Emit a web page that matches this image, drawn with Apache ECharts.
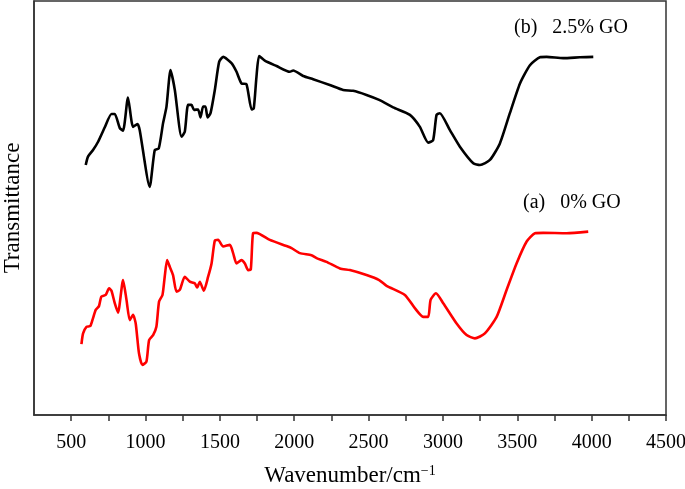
<!DOCTYPE html>
<html>
<head>
<meta charset="utf-8">
<script src="https://cdn.jsdelivr.net/npm/echarts@6/dist/echarts.min.js"></script>
<style>
  html, body { margin: 0; padding: 0; background: #fff; }
  #chart { width: 685px; height: 489px; }
</style>
</head>
<body>
<div id="chart"></div>
<script>
// x axis ticks
const tickLabels = [500, 1000, 1500, 2000, 2500, 3000, 3500, 4000, 4500];

// (b) 2.5% GO
const goWavenumber = [598, 613, 647, 681, 726, 771, 793, 827, 849, 882, 916, 946, 961, 1028, 1062, 1089,
  1118, 1141, 1168, 1197, 1242, 1264, 1286, 1309, 1326, 1353, 1370, 1387, 1403, 1417, 1437, 1466,
  1495, 1522, 1578, 1612, 1645, 1679, 1713, 1728, 1746, 1764, 1802, 1881, 1970, 1993, 2060, 2127,
  2239, 2329, 2396, 2486, 2571, 2665, 2778, 2845, 2901, 2934, 2957, 2979, 3047, 3114, 3204, 3249,
  3316, 3383, 3450, 3518, 3585, 3652, 3697, 3809, 3921, 4011];
const goTransmittance = [60.4, 62.4, 64.0, 66.0, 69.5, 72.7, 72.7, 69.3, 68.7, 76.7, 69.6, 70.3, 68.8, 55.1, 64.0, 64.4,
  70.5, 74.5, 83.3, 78.5, 67.2, 68.4, 74.9, 74.9, 73.7, 73.8, 71.9, 74.5, 74.5, 71.9, 72.9, 78.5,
  85.3, 86.5, 85.0, 82.9, 80.1, 79.9, 73.8, 74.1, 81.7, 86.7, 85.6, 84.3, 82.9, 83.2, 81.9, 81.1,
  79.7, 78.5, 78.3, 77.3, 76.1, 74.3, 72.5, 69.6, 65.8, 66.4, 72.5, 72.9, 68.8, 64.8, 60.8, 60.4,
  61.6, 65.6, 72.9, 80.1, 84.5, 86.4, 86.5, 86.2, 86.4, 86.5];

// (a) 0% GO
const pureWavenumber = [569, 580, 603, 629, 647, 665, 687, 703, 732, 755, 771, 793, 815, 849, 872, 894,
  916, 934, 956, 979, 1006, 1024, 1051, 1073, 1091, 1114, 1129, 1145, 1163, 1185, 1208, 1230,
  1264, 1298, 1331, 1347, 1365, 1392, 1421, 1444, 1466, 1488, 1522, 1567, 1589, 1612, 1645, 1668,
  1690, 1708, 1723, 1746, 1836, 1948, 1982, 2038, 2116, 2150, 2217, 2307, 2374, 2486, 2571, 2621,
  2744, 2811, 2867, 2901, 2917, 2953, 3002, 3092, 3159, 3215, 3282, 3361, 3428, 3495, 3563, 3619,
  3674, 3832, 3977];
const pureTransmittance = [17.1, 19.7, 21.3, 21.5, 23.4, 25.4, 26.3, 28.6, 29.0, 30.6, 30.0, 27.0, 24.7, 32.6, 27.8, 22.9,
  24.2, 22.1, 14.9, 12.1, 12.9, 18.1, 19.3, 21.3, 27.4, 29.0, 33.4, 37.4, 35.8, 33.8, 29.8, 30.2,
  33.4, 32.2, 31.8, 30.8, 32.2, 30.0, 33.4, 36.6, 42.1, 42.3, 40.7, 41.1, 39.1, 36.6, 37.4, 36.6,
  35.0, 35.2, 43.9, 44.0, 42.3, 40.8, 40.3, 39.1, 38.6, 37.9, 37.0, 35.4, 35.0, 33.8, 32.6, 31.2,
  29.0, 25.8, 23.7, 23.7, 27.8, 29.4, 27.0, 22.1, 19.3, 18.5, 19.7, 23.7, 30.2, 36.6, 41.9, 43.9,
  44.0, 43.9, 44.3];

const FONT = 'Liberation Serif, Times New Roman, serif';

const pairs = (xs, ys) => xs.map((x, i) => [x, ys[i]]);

const chart = echarts.init(document.getElementById('chart'), null, { renderer: 'canvas' });

const option = {
  backgroundColor: '#fff',
  animation: false,
  grid: {
    left: 34,
    top: 1,
    right: 19,
    bottom: 74,
    outerBoundsMode: 'none',
    containLabel: false,
    show: true,
    borderColor: '#333',
    borderWidth: 1.5,
  },
  xAxis: {
    type: 'value',
    min: 250,
    max: 4500,
    interval: 250,
    name: 'Wavenumber/cm{sup|\u22121}',
    nameLocation: 'middle',
    nameGap: 49,
    nameTextStyle: {
      fontFamily: FONT,
      fontSize: 23,
      color: '#000',
      rich: {
        sup: { fontFamily: FONT, fontSize: 14, color: '#000', verticalAlign: 'top' },
      },
    },
    axisLine: { show: true, lineStyle: { color: '#333', width: 1.5 } },
    axisTick: { show: true, inside: false, length: 6, lineStyle: { color: '#333', width: 1.5 } },
    axisLabel: {
      margin: 18,
      fontFamily: FONT,
      fontSize: 20,
      color: '#000',
      showMinLabel: false,
      formatter: (v) => (tickLabels.includes(v) ? String(v) : ''),
    },
    splitLine: { show: false },
  },
  yAxis: {
    type: 'value',
    min: 0,
    max: 100,
    name: 'Transmittance',
    nameLocation: 'middle',
    nameGap: 10,
    nameTextStyle: { fontFamily: FONT, fontSize: 23, color: '#000' },
    axisLine: { show: true, lineStyle: { color: '#333', width: 1.5 } },
    axisTick: { show: false },
    axisLabel: { show: false },
    splitLine: { show: false },
  },
  graphic: [
    {
      type: 'text',
      left: 514,
      top: 18,
      style: { text: '(b)   2.5% GO', font: '20px ' + FONT, fill: '#000' },
    },
    {
      type: 'text',
      left: 523,
      top: 193,
      style: { text: '(a)   0% GO', font: '20px ' + FONT, fill: '#000' },
    },
  ],
  series: [
    {
      name: '2.5% GO',
      type: 'line',
      data: pairs(goWavenumber, goTransmittance),
      showSymbol: false,
      smooth: 0.2,
      lineStyle: { color: '#000', width: 2.6 },
    },
    {
      name: '0% GO',
      type: 'line',
      data: pairs(pureWavenumber, pureTransmittance),
      showSymbol: false,
      smooth: 0.2,
      lineStyle: { color: '#ff0000', width: 2.6 },
    },
  ],
};

chart.setOption(option);
</script>
</body>
</html>
